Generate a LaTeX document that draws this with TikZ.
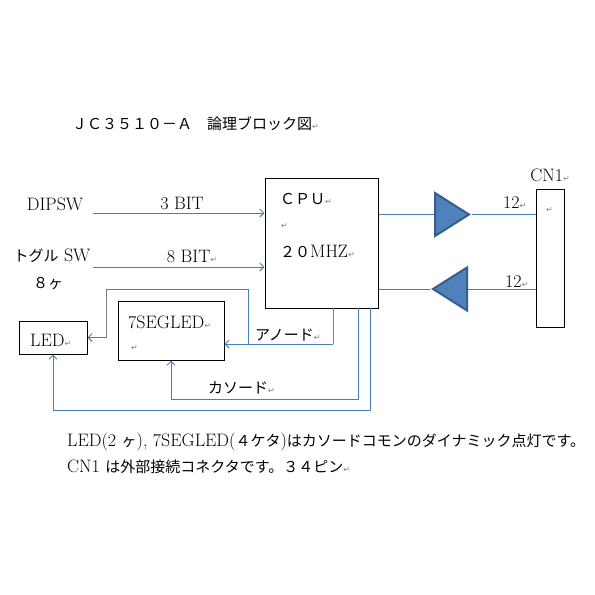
\documentclass[tikz,border=0pt]{standalone}
\usepackage{fontspec}
\newfontfamily\jpf{Noto Sans CJK JP}
\newfontfamily\symf{DejaVu Sans}
\usepackage{tikz}
\usetikzlibrary{arrows.meta,shapes.geometric,positioning}
\definecolor{wireblue}{HTML}{4A7EBB}
\definecolor{wiregray}{HTML}{808080}
\definecolor{drvfill}{HTML}{4F81BD}
\definecolor{drvline}{HTML}{385D8A}
\newcommand{\jp}{\jpf\fontsize{15}{18}\selectfont}
\newcommand{\ret}{{\fontsize{8}{8}\selectfont\symf\textcolor{gray}{↵}}}
\begin{document}
\begin{tikzpicture}[x=1pt,y=-1pt,
 every node/.style={font=\fontsize{18}{21}\selectfont},
 blk/.style={draw,line width=1pt,inner sep=0},
 lbl/.style={anchor=west,inner sep=0},
 wire/.style={draw=wireblue,line width=1pt},
 wireg/.style={draw=wiregray,line width=1pt},
 arr/.style={-{Straight Barb[length=4pt,width=8pt]}},
 drv/.style={isosceles triangle,isosceles triangle stretches,draw=drvline,fill=drvfill,
  line width=2pt,inner sep=0,minimum width=43pt,minimum height=34pt}]
 \useasboundingbox[fill=white] (0,0) rectangle (595,595);
 % title
 \node[lbl] (title) at (72,124) {\jp ＪＣ３５１０－Ａ　論理ブロック図\ret};
 % blocks
 \node[blk,minimum width=113pt,minimum height=130pt] (cpu) at (321.5,243) {};
 \node[blk,minimum width=28pt,minimum height=138pt] (cn1) at (550,258) {};
 \node[blk,minimum width=68pt,minimum height=33pt] (led) at (53,337.5) {};
 \node[blk,minimum width=106pt,minimum height=59pt] (seg) at (171,330.5) {};
 \node[drv,anchor=lower side] (drv_out) at (434,214.5) {};
 \node[drv,shape border rotate=180,anchor=lower side] (drv_in) at (468,289) {};
 % texts
 \node[lbl] (cpu_t) at (280,199) {\jp ＣＰＵ\ret};
 \node[lbl] (cpu_r) at (281,226) {\ret};
 \node[lbl] (cpu_f) at (280,251) {{\jp ２０}MHZ\ret};
 \node[above=3pt of cn1] (cn1_t) {CN1\ret};
 \node[lbl] (cn1_r) at (546,210) {\ret};
 \node[lbl] (led_t) at (30,340) {LED\ret};
 \node[lbl] (seg_t) at (128,322) {7SEGLED\ret};
 \node[lbl] (seg_r) at (131,348) {\ret};
 \node (dipsw) at (55,204) {DIPSW};
 \node (tgl) at (52,256) {{\jp トグル} SW};
 \node (tgl_n) at (48,283) {\jp ８ヶ};
 \node (bit3) at (182,203) {3 BIT};
 \node (bit8) at (192,256) {8 BIT\ret};
 \node[lbl] (o12) at (503,203) {12\ret};
 \node[lbl] (i12) at (505,282) {12\ret};
 \node[lbl] (ano_t) at (255,335) {\jp アノード\ret};
 \node[lbl] (cat_t) at (208,388) {\jp カソード\ret};
 \node[lbl] (note1) at (67,442) {LED(2 {\jp ヶ}), 7SEGLED({\jp ４ケタ}){\jp はカソードコモンのダイナミック点灯です。}};
 \node[lbl] (note2) at (67,467) {CN1 {\jp は外部接続コネクタです。３４ピン}\ret};
 % wire ends
 \coordinate (in_dip) at (93,213);
 \coordinate (in_tgl) at (93,267);
 \coordinate (an_src) at (333,308);
 \coordinate (an_y) at (0,344);
 \coordinate (br_a) at (248,344);
 \coordinate (br_b) at (106,289);
 \coordinate (ca_src) at (358,308);
 \coordinate (cl_src) at (370,308);
 % connectors
 \draw[wire,arr] (in_dip) -- (cpu.west |- in_dip);
 \draw[wire,arr] (in_tgl) -- (cpu.west |- in_tgl);
 \draw[wire] (cpu.east |- drv_out.lower side) -- (drv_out.lower side);
 \draw[wire] (drv_out.apex) -- (cn1.west |- drv_out.apex);
 \draw[wire] (cn1.west |- drv_in.lower side) -- (drv_in.lower side);
 \draw[wire] (drv_in.apex) -- (cpu.east |- drv_in.apex);
 \draw[wireg] (an_src) -- (an_src |- an_y);
 \draw[wire,arr] (an_src |- an_y) -- (seg.east |- an_y);
 \draw[wire] (br_a) |- (br_b);
 \draw[wireg] (br_b) -- (br_b |- led.east);
 \draw[wire,arr] (br_b |- led.east) -- (led.east);
 \draw[wire,arr] (ca_src) |- ([yshift=-39pt]seg.south) -- (seg.south);
 \draw[wire,arr] (cl_src) |- ([yshift=-56pt]led.south) -- (led.south);
\end{tikzpicture}
\end{document}
